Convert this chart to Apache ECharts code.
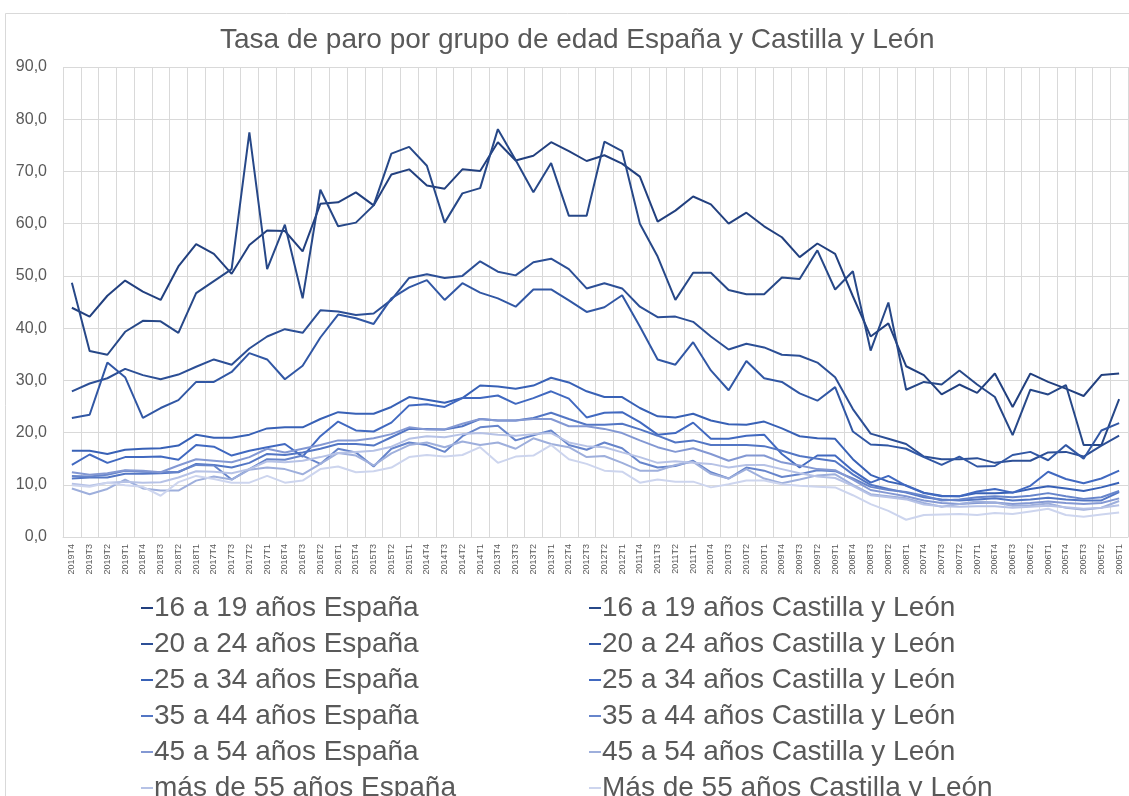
<!DOCTYPE html>
<html>
<head>
<meta charset="utf-8">
<script src="https://cdn.jsdelivr.net/npm/echarts@6/dist/echarts.min.js"></script>
<style>
  html, body { margin: 0; padding: 0; background: #fff; }
  #chart { width: 1129px; height: 796px; }
</style>
</head>
<body>
<div id="chart"></div>
<script>
// trimestres, del más reciente al más antiguo
var quarters = [
    '2019T4', '2019T3', '2019T2', '2019T1', '2018T4', '2018T3', '2018T2', '2018T1',
    '2017T4', '2017T3', '2017T2', '2017T1', '2016T4', '2016T3', '2016T2', '2016T1',
    '2015T4', '2015T3', '2015T2', '2015T1', '2014T4', '2014T3', '2014T2', '2014T1',
    '2013T4', '2013T3', '2013T2', '2013T1', '2012T4', '2012T3', '2012T2', '2012T1',
    '2011T4', '2011T3', '2011T2', '2011T1', '2010T4', '2010T3', '2010T2', '2010T1',
    '2009T4', '2009T3', '2009T2', '2009T1', '2008T4', '2008T3', '2008T2', '2008T1',
    '2007T4', '2007T3', '2007T2', '2007T1', '2006T4', '2006T3', '2006T2', '2006T1',
    '2005T4', '2005T3', '2005T2', '2005T1'
];

var esp1619 = [43.9, 42.2, 46.2, 49.1, 47.0, 45.4, 51.8, 56.1, 54.2, 50.4, 55.9, 58.7, 58.6, 54.7, 63.8, 64.1, 66.0, 63.5, 69.4, 70.4,
    67.3, 66.7, 70.4, 70.1, 75.6, 72.1, 73.0, 75.6, 73.9, 72.0, 73.1, 71.5, 69.0, 60.4, 62.5, 65.2, 63.7, 60.0, 62.1, 59.5,
    57.4, 53.6, 56.2, 54.2, 46.1, 38.4, 40.9, 32.7, 31.0, 27.3, 29.2, 27.6, 31.3, 24.9, 31.3, 29.7, 28.4, 27.0, 31.0, 31.3];
var cyl1619 = [48.7, 35.6, 34.9, 39.3, 41.4, 41.3, 39.1, 46.7, 49.0, 51.3, 77.5, 51.3, 59.8, 45.7, 66.5, 59.5, 60.2, 63.5, 73.4, 74.7,
    71.1, 60.2, 65.8, 66.8, 78.1, 72.2, 66.0, 71.6, 61.5, 61.5, 75.7, 73.9, 60.0, 53.7, 45.4, 50.6, 50.6, 47.3, 46.5, 46.5,
    49.7, 49.4, 54.9, 47.4, 50.9, 35.7, 44.9, 28.2, 29.7, 29.2, 31.9, 29.2, 26.8, 19.5, 28.2, 27.3, 29.1, 17.6, 17.6, 26.4];
var esp2024 = [27.9, 29.4, 30.4, 32.2, 31.0, 30.2, 31.1, 32.6, 34.0, 33.0, 36.1, 38.4, 39.8, 39.1, 43.4, 43.2, 42.5, 42.8, 45.4, 49.6,
    50.3, 49.6, 50.0, 52.8, 50.8, 50.1, 52.6, 53.3, 51.3, 47.6, 48.6, 47.6, 44.1, 42.1, 42.2, 41.2, 38.4, 35.9, 37.0, 36.3,
    34.9, 34.7, 33.4, 30.6, 24.5, 19.8, 18.8, 17.8, 15.4, 14.9, 14.9, 15.1, 14.2, 14.6, 14.6, 16.2, 16.3, 15.4, 17.5, 19.4];
var cyl2024 = [22.8, 23.4, 33.4, 30.6, 22.8, 24.7, 26.2, 29.7, 29.7, 31.6, 35.2, 34.0, 30.2, 32.8, 38.2, 42.6, 41.9, 40.8, 45.7, 47.8,
    49.2, 45.4, 48.6, 46.8, 45.7, 44.1, 47.4, 47.4, 45.3, 43.1, 44.0, 46.3, 40.3, 34.0, 33.0, 37.3, 31.9, 28.1, 33.7, 30.4,
    29.7, 27.5, 26.1, 28.7, 20.2, 17.7, 17.5, 16.9, 15.3, 13.8, 15.4, 13.5, 13.6, 15.7, 16.3, 14.7, 17.6, 15.0, 20.4, 21.8];
var esp2534 = [16.5, 16.5, 15.9, 16.7, 16.9, 17.0, 17.5, 19.6, 19.0, 19.0, 19.6, 20.8, 21.0, 21.0, 22.6, 23.9, 23.6, 23.6, 24.9, 26.8,
    26.3, 25.7, 26.6, 29.0, 28.8, 28.4, 29.0, 30.5, 29.6, 27.9, 26.8, 26.8, 24.7, 23.1, 22.9, 23.6, 22.3, 21.6, 21.5, 22.1,
    20.8, 19.3, 18.9, 18.8, 14.9, 11.9, 10.6, 9.9, 8.5, 7.9, 7.8, 8.4, 8.4, 8.5, 9.2, 9.7, 9.3, 8.8, 9.5, 10.4];
var cyl2534 = [13.8, 15.8, 14.2, 15.3, 15.3, 15.4, 14.8, 17.6, 17.3, 15.6, 16.5, 17.2, 17.8, 15.4, 19.3, 22.1, 20.4, 20.2, 21.9, 25.2,
    25.4, 24.9, 26.6, 26.6, 27.1, 25.5, 26.6, 27.9, 26.5, 22.9, 23.8, 23.9, 22.0, 19.6, 19.9, 21.9, 18.8, 18.8, 19.4, 19.6,
    15.9, 13.3, 15.6, 15.6, 12.7, 10.4, 11.7, 9.8, 8.4, 7.8, 7.8, 8.7, 9.2, 8.5, 9.8, 12.5, 11.1, 10.3, 11.2, 12.7];
var esp3544 = [11.2, 11.4, 11.4, 12.1, 12.1, 12.2, 12.4, 14.0, 13.8, 13.3, 14.2, 15.9, 15.7, 16.2, 16.9, 17.8, 17.8, 17.5, 19.1, 20.7,
    20.7, 20.6, 21.2, 22.6, 22.3, 22.3, 22.8, 23.8, 22.6, 21.5, 21.5, 21.7, 20.6, 19.4, 18.1, 18.5, 17.6, 17.6, 17.6, 17.4,
    16.5, 15.5, 15.0, 14.5, 12.0, 10.0, 9.2, 8.5, 7.6, 7.2, 7.0, 7.2, 7.4, 7.0, 7.2, 7.5, 7.2, 7.0, 7.0, 8.6];
var cyl3544 = [11.7, 11.6, 11.9, 12.7, 12.5, 12.4, 12.5, 13.8, 13.7, 11.0, 13.0, 14.9, 14.8, 15.6, 14.0, 16.9, 16.2, 13.5, 16.9, 18.1,
    17.6, 16.3, 19.3, 21.0, 21.3, 18.5, 19.5, 20.4, 17.6, 16.7, 18.1, 17.0, 14.3, 13.3, 13.6, 14.6, 12.4, 11.2, 13.3, 12.7,
    11.5, 12.0, 12.8, 12.6, 11.2, 9.6, 9.0, 8.6, 7.9, 7.0, 7.2, 7.6, 7.8, 7.6, 7.9, 8.4, 7.8, 7.3, 7.6, 8.8];
var esp4554 = [12.4, 11.9, 12.2, 12.8, 12.7, 12.4, 13.7, 14.9, 14.6, 14.3, 15.3, 16.9, 16.2, 16.9, 17.6, 18.5, 18.5, 18.9, 19.7, 21.0,
    20.6, 20.6, 21.7, 22.6, 22.3, 22.3, 22.6, 22.6, 21.2, 21.2, 20.7, 19.9, 18.5, 17.2, 16.3, 17.0, 15.9, 14.6, 15.6, 15.6,
    14.3, 13.7, 13.0, 12.8, 11.0, 9.0, 8.4, 7.8, 7.0, 6.5, 6.3, 6.5, 6.6, 6.3, 6.5, 6.8, 6.5, 6.3, 6.5, 7.4];
var cyl4554 = [9.3, 8.2, 9.2, 11.0, 9.3, 8.9, 8.9, 10.8, 11.6, 11.0, 12.9, 13.3, 13.0, 12.0, 14.0, 16.1, 15.6, 13.7, 16.0, 17.6,
    18.1, 17.2, 18.3, 17.6, 18.1, 16.9, 18.9, 17.8, 17.2, 15.3, 15.5, 14.2, 12.7, 12.7, 13.8, 14.4, 12.1, 11.2, 13.0, 11.2,
    10.3, 11.0, 11.8, 12.0, 10.0, 8.2, 7.8, 7.4, 6.5, 5.8, 6.3, 6.8, 6.6, 6.0, 6.1, 6.4, 5.6, 5.2, 5.6, 6.9];
var esp55 = [10.2, 9.8, 10.4, 10.6, 10.4, 10.5, 11.4, 12.6, 12.5, 12.2, 13.0, 14.5, 14.3, 14.6, 15.3, 16.1, 16.3, 16.5, 17.3, 18.8,
    19.3, 19.1, 19.7, 19.9, 19.6, 19.4, 19.7, 19.9, 18.1, 17.4, 17.2, 16.2, 15.3, 14.2, 14.5, 14.2, 14.0, 13.3, 13.8, 13.8,
    13.0, 12.2, 11.6, 11.3, 9.8, 8.0, 7.6, 7.2, 6.2, 5.9, 5.8, 5.9, 5.9, 5.6, 5.8, 6.0, 5.7, 5.4, 5.6, 6.1];
var cyl55 = [9.9, 9.6, 10.4, 9.9, 9.6, 7.9, 10.5, 11.7, 11.1, 10.4, 10.4, 11.7, 10.4, 10.8, 13.0, 13.5, 12.4, 12.6, 13.3, 15.3,
    15.7, 15.4, 15.7, 17.2, 14.2, 15.4, 15.6, 17.6, 14.9, 14.0, 12.7, 12.5, 10.4, 11.0, 10.6, 10.6, 9.5, 10.1, 10.8, 10.8,
    10.1, 9.8, 9.6, 9.5, 8.0, 6.3, 5.0, 3.3, 4.2, 4.3, 4.4, 4.2, 4.6, 4.4, 4.9, 5.4, 4.2, 3.9, 4.3, 4.7];

var namesEsp = ['16 a 19 años España', '20 a 24 años España', '25 a 34 años España',
    '35 a 44 años España', '45 a 54 años España', 'más de 55 años España'];
var namesCyl = ['16 a 19 años Castilla y León', '20 a 24 años Castilla y León', '25 a 34 años Castilla y León',
    '35 a 44 años Castilla y León', '45 a 54 años Castilla y León', 'Más de 55 años Castilla y León'];

var colors = ['#22407f', '#274888', '#2c4f96', '#3157a4', '#3861b6', '#4169c0',
    '#5376c4', '#6785cb', '#8398d3', '#9eafdc', '#b6c2e6', '#cdd5ee'];

var esp = [esp1619, esp2024, esp2534, esp3544, esp4554, esp55];
var cyl = [cyl1619, cyl2024, cyl2534, cyl3544, cyl4554, cyl55];

var series = [];
for (var k = 0; k < 6; k++) {
    series.push({name: namesEsp[k], type: 'line', data: esp[k], symbol: 'none',
        lineStyle: {width: 2}, color: colors[2 * k]});
    series.push({name: namesCyl[k], type: 'line', data: cyl[k], symbol: 'none',
        lineStyle: {width: 2}, color: colors[2 * k + 1]});
}

var txt = '#595959';
var fontFam = '"Liberation Sans", Arial, sans-serif';

var legendBase = {
    orient: 'vertical',
    top: 589,
    height: 400,
    itemWidth: 12,
    itemHeight: 2,
    itemGap: 8,
    icon: 'rect',
    textStyle: {color: txt, fontSize: 28, fontFamily: fontFam, padding: [0, 0, 0, -4]}
};

var myChart = echarts.init(document.getElementById('chart'), null, {renderer: 'canvas'});

option = {
    animation: false,
    backgroundColor: '#fff',
    title: {
        text: 'Tasa de paro por grupo de edad España y Castilla y León',
        left: 215,
        top: 21,
        textStyle: {color: txt, fontSize: 28, fontWeight: 'normal', fontFamily: fontFam}
    },
    graphic: [{
        type: 'rect',
        shape: {x: 5.5, y: 13.5, width: 1140, height: 800},
        style: {fill: 'none', stroke: '#d9d9d9', lineWidth: 1},
        silent: true
    }],
    legend: [
        Object.assign({}, legendBase, {left: 136, data: namesEsp}),
        Object.assign({}, legendBase, {left: 584, data: namesCyl})
    ],
    grid: {left: 63, right: 1, top: 67, bottom: 259},
    xAxis: {
        type: 'category',
        data: quarters,
        boundaryGap: true,
        axisLine: {lineStyle: {color: '#d9d9d9', width: 1}},
        axisTick: {show: false},
        splitLine: {show: true, lineStyle: {color: '#d9d9d9', width: 1}},
        axisLabel: {rotate: 90, interval: 0, fontSize: 9, color: txt, margin: 7, fontFamily: fontFam}
    },
    yAxis: {
        type: 'value',
        min: 0,
        max: 90,
        interval: 10,
        axisLine: {show: false},
        axisTick: {show: false},
        splitLine: {lineStyle: {color: '#d9d9d9', width: 1}},
        axisLabel: {
            fontSize: 16, color: txt, margin: 16, fontFamily: fontFam,
            formatter: function (v) {
                return v.toFixed(1).replace('.', ',');
            }
        }
    },
    series: series
};

myChart.setOption(option);
</script>
</body>
</html>
